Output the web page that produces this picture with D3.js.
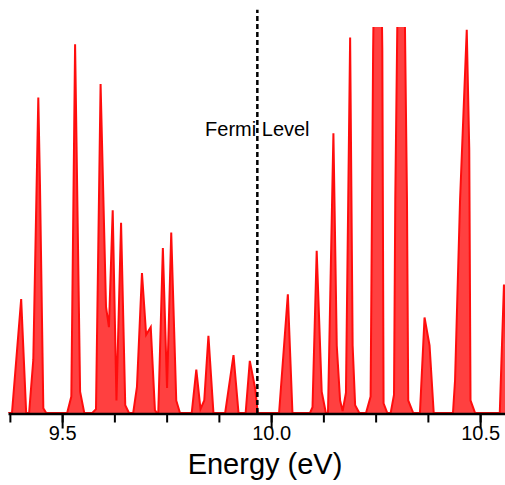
<!DOCTYPE html>
<html>
    <head>
        <meta charset="utf-8">
        <title>Density of states</title>
        <script src="https://d3js.org/d3.v7.min.js"></script>
    </head>
    <style>
        body { margin: 0; background: #fff; }
        text { font-family: "Liberation Sans", Arial, Helvetica, sans-serif; }
    </style>
    <body>
        <div id="my_dataviz"></div>

        <script>
            // energy grid (eV) and density of states
            var energy = [
                9.371, 9.380, 9.402, 9.414, 9.421, 9.431, 9.443, 9.447, 9.455, 9.462,
                9.512, 9.522, 9.531, 9.543, 9.553,
                9.572, 9.581, 9.592, 9.605, 9.612, 9.621, 9.630, 9.641, 9.651, 9.660,
                9.670, 9.679, 9.691, 9.701, 9.712, 9.722, 9.727,
                9.730, 9.741, 9.751, 9.761, 9.773, 9.782,
                9.810, 9.821, 9.831, 9.840, 9.850, 9.862,
                9.890, 9.910, 9.922,
                9.939, 9.949, 9.962, 9.968,
                10.019, 10.040, 10.051,
                10.093, 10.099, 10.109, 10.121, 10.131,
                10.136, 10.149, 10.157, 10.165, 10.171, 10.179, 10.189, 10.195, 10.201, 10.211,
                10.227, 10.238, 10.244, 10.255, 10.266, 10.269, 10.278,
                10.286, 10.294, 10.297, 10.311, 10.325, 10.328, 10.340,
                10.356, 10.367, 10.379, 10.389,
                10.435, 10.440, 10.452, 10.468, 10.474, 10.477, 10.488,
                10.547, 10.557, 10.566, 10.572
            ];
            var dos = [
                0, 0, 11.8, 0, 0, 5.5, 32.7, 23.6, 0.5, 0,
                0, 1.7, 38.2, 2.2, 0,
                0, 0.4, 34.1, 11.0, 8.9, 21.0, 1.3, 19.7, 0.8, 0,
                0, 2.7, 14.5, 8.1, 8.9, 0.3, 0,
                0, 17.1, 2.6, 18.7, 1.3, 0,
                0, 4.5, 0.4, 1.3, 8.0, 0,
                0, 6.0, 0,
                0, 5.4, 2.5, 0,
                0, 12.3, 0,
                0, 0.6, 16.8, 2.2, 0,
                0, 29.0, 7.0, 1.3, 0.2, 2.1, 38.9, 7.0, 0.8, 0,
                0, 1.7, 37.6, 75, 37.6, 1.0, 0,
                0, 1.9, 22.1, 74, 22.1, 1.3, 0,
                0, 9.9, 7.0, 0,
                0, 3.4, 22.1, 39.7, 27.3, 1.3, 0,
                0, 13.3, 2.0, 0
            ];

            var E_MIN = 9.3705, E_MAX = 10.5595;   // visible energy window
            var DOS_MAX = 40;                        // top of the plot, peaks above are cut
            var FERMI = 9.967;                       // fermi level (eV)
            var FERMI_TOP = 41.8;                    // dashed line goes a bit above the plot
            var FERMI_LABEL_Y = 28.7;
            var majorTicks = [9.5, 10.0, 10.5];
            var minorTicks = d3.range(9.375, 10.56, 0.125);

            var data = energy.map(function(e, i) { return {e: e, d: dos[i]}; });

            var width = 505, height = 485;

            var svg = d3.select("#my_dataviz")
                .append("svg")
                .attr("width", width)
                .attr("height", height);

            var x = d3.scaleLinear()
                .domain([E_MIN, E_MAX])
                .range([8, 505]);

            var y = d3.scaleLinear()
                .domain([0, DOS_MAX])
                .range([413, 27]);

            // clip so the tall peaks get cut at the top
            svg.append("clipPath")
                .attr("id", "plotclip")
                .append("rect")
                .attr("x", x(E_MIN))
                .attr("y", y(DOS_MAX))
                .attr("width", x(E_MAX) - x(E_MIN))
                .attr("height", y(0) - y(DOS_MAX));

            var plot = svg.append("g").attr("clip-path", "url(#plotclip)");

            // filled DOS
            plot.append("path")
                .datum(data)
                .attr("fill", "#ff4040")
                .attr("stroke", "none")
                .attr("d", d3.area()
                    .x(function(d) { return x(d.e); })
                    .y0(y(0))
                    .y1(function(d) { return y(d.d); })
                );

            // outline
            plot.append("path")
                .datum(data)
                .attr("fill", "none")
                .attr("stroke", "#ff0d0d")
                .attr("stroke-width", 2)
                .attr("stroke-linejoin", "miter")
                .attr("d", d3.line()
                    .x(function(d) { return x(d.e); })
                    .y(function(d) { return y(d.d); })
                );

            // fermi level
            svg.append("line")
                .attr("x1", x(FERMI))
                .attr("x2", x(FERMI))
                .attr("y1", y(0))
                .attr("y2", y(FERMI_TOP))
                .attr("stroke", "black")
                .attr("stroke-width", 2.5)
                .attr("stroke-dasharray", "5,3");

            svg.append("text")
                .attr("x", x(FERMI))
                .attr("y", y(FERMI_LABEL_Y))
                .attr("text-anchor", "middle")
                .attr("font-size", "20px")
                .attr("fill", "black")
                .text("Fermi Level");

            // minor ticks
            svg.append("g")
                .attr("transform", "translate(0," + 413.5 + ")")
                .call(d3.axisBottom(x).tickValues(minorTicks).tickSize(9).tickSizeOuter(0).tickFormat(""))
                .call(function(g) { g.select(".domain").remove(); })
                .selectAll("line")
                .attr("stroke-width", 2);

            // major ticks + axis line
            var xAxis = svg.append("g")
                .attr("transform", "translate(0," + 413.5 + ")")
                .call(d3.axisBottom(x).tickValues(majorTicks).tickSize(15).tickSizeOuter(0).tickFormat(d3.format(".1f")));
            xAxis.select(".domain").attr("stroke-width", 2.5);
            xAxis.selectAll("line").attr("stroke-width", 2);
            xAxis.selectAll("text")
                .attr("y", 26.5)
                .attr("dy", 0)
                .attr("font-size", "20px")
                .attr("font-family", "Liberation Sans, Arial, Helvetica, sans-serif")
                .attr("fill", "black");

            svg.append("text")
                .attr("x", 265)
                .attr("y", 474)
                .attr("text-anchor", "middle")
                .attr("font-size", "29px")
                .attr("fill", "black")
                .text("Energy (eV)");
        </script>
    </body>
</html>
